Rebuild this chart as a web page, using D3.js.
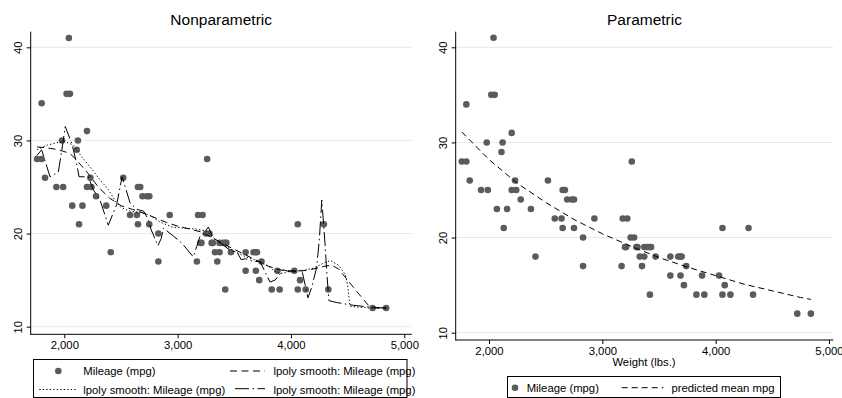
<!DOCTYPE html>
<html><head><meta charset="utf-8">
<script src="https://cdn.jsdelivr.net/npm/d3@7"></script>
<style>
html,body{margin:0;padding:0;background:#fff;}
svg{display:block;font-family:"Liberation Sans",Arial,Helvetica,sans-serif;}
</style></head>
<body>
<svg id="chart" width="842" height="398"></svg>
<script>
// ---- data (Stata auto dataset: weight vs mpg) ----
const weight = [1760,1800,1800,1830,1930,1980,1990,2020,2040,2050,2070,2110,2120,2130,2160,2200,2200,2230,2240,2280,2370,2410,2520,2580,2640,2650,2650,2670,2690,2730,2750,2750,2830,2830,2930,3170,3180,3200,3210,3220,3250,3260,3280,3300,3310,3330,3350,3370,3370,3400,3420,3420,3430,3470,3600,3600,3670,3690,3690,3700,3720,3740,3830,3880,3900,4030,4060,4060,4080,4130,4290,4330,4720,4840];
const mpg    = [28,28,34,26,25,30,25,35,41,35,23,29,30,21,23,25,31,26,25,24,23,18,26,22,22,21,25,25,24,24,24,21,20,17,22,17,22,19,19,22,20,28,20,19,19,18,17,18,19,19,19,14,19,18,18,16,18,16,18,18,15,17,14,16,14,16,21,14,15,14,21,14,12,12];

// lpoly smooth 1 (dashed)
const lp1W = [1760,1850,1950,2050,2100,2150,2200,2250,2300,2400,2500,2600,2700,2800,2900,3000,3100,3200,3300,3400,3500,3600,3700,3800,3900,4000,4100,4200,4300,4360,4420,4500,4600,4690,4750,4840];
const lp1M = [29.3,29.2,29.0,28.6,28.0,27.3,26.6,25.8,25.0,23.8,23.0,22.6,22.2,21.7,21.2,20.8,20.5,20.2,19.6,18.9,18.3,17.7,17.1,16.5,16.1,16.0,16.0,16.2,16.5,16.6,16.2,15.0,13.5,12.2,12.0,12.0];
// lpoly smooth 2 (dotted)
const lp2W = [1760,1850,1950,2000,2080,2150,2250,2300,2390,2450,2500,2580,2650,2750,2850,2950,3050,3150,3250,3300,3400,3500,3600,3700,3800,3850,3900,3950,4000,4050,4100,4200,4300,4350,4420,4480,4500,4520,4600,4700,4840];
const lp2M = [29.0,29.5,29.8,29.9,29.5,28.3,26.8,26.0,24.7,23.5,22.8,22.4,22.3,22.0,21.2,20.7,20.6,20.5,20.3,19.7,18.8,18.1,17.5,17.1,16.5,16.0,15.7,15.8,16.0,16.0,16.0,16.3,16.9,17.1,16.6,15.6,14.5,12.2,12.1,12.0,12.0];
// lpoly smooth 3 (long dash dot)
const lp3W = [1760,1800,1874,1947,1985,2008,2065,2080,2109,2130,2212,2256,2315,2388,2462,2510,2580,2640,2700,2737,2767,2826,2856,2874,3006,3035,3138,3168,3197,3230,3271,3315,3400,3462,3530,3560,3600,3668,3727,3815,3859,3932,3992,4050,4095,4125,4150,4185,4227,4250,4272,4300,4318,4335,4400,4550,4700,4840];
const lp3M = [28.4,29.0,26.1,26.6,29.5,31.5,29.7,29.0,27.5,26.1,26.1,24.7,23.6,20.9,23.1,26.1,23.3,22.6,22.4,21.6,20.4,18.7,19.5,20.6,19.3,19.0,17.5,18.6,19.7,20.0,20.7,19.5,18.8,18.2,17.9,17.2,17.3,17.0,17.0,14.8,15.0,16.1,15.9,15.9,16.1,14.5,13.1,14.3,16.4,19.3,23.6,19.0,15.5,12.8,12.6,12.3,12.1,12.0];
// parametric predicted mean mpg
const predW = [1760,2000,2250,2500,2750,3000,3250,3500,3750,4000,4250,4500,4750,4840];
const predM = [31.1,28.2,25.7,23.7,21.9,20.4,19.1,17.9,16.9,16.0,15.1,14.4,13.7,13.5];

const xTicks = [2000,3000,4000,5000];
const yTicks = [10,20,30,40];

// ---- drawing ----
const svg = d3.select("#chart");
const FONT = 11.3;
const ptColor = "#5b5b5b";

function panel(opts){
  const g = svg.append("g");
  const x = d3.scaleLinear().domain([2000,5000]).range(opts.xr);
  const y = d3.scaleLinear().domain([10,40]).range(opts.yr);
  const L = opts.left, R = opts.right, T = opts.top, B = opts.bottom;
  // grid
  g.selectAll(".grid").data(yTicks).enter().append("line")
    .attr("x1", L).attr("x2", R).attr("y1", d=>y(d)).attr("y2", d=>y(d))
    .attr("stroke", "#e8e8e8").attr("stroke-width", 1);
  // axes
  const xa = g.append("g").attr("transform", `translate(0,${B})`)
    .call(d3.axisBottom(x).tickValues(xTicks).tickFormat(d3.format(",")).tickSize(4).tickSizeOuter(0));
  xa.select(".domain").remove();
  xa.selectAll("text").attr("y", 6.6).attr("font-size", FONT).attr("font-family", null).attr("fill","#000");
  const ya = g.append("g").attr("transform", `translate(${L},0)`)
    .call(d3.axisLeft(y).tickValues(yTicks).tickSize(4).tickSizeOuter(0));
  ya.select(".domain").remove();
  ya.selectAll("text").attr("transform","rotate(-90)").attr("x",0).attr("y",-8.3).attr("dy",0)
    .attr("text-anchor","middle").attr("font-size", FONT).attr("font-family", null).attr("fill","#000");
  g.append("line").attr("x1",L).attr("x2",L).attr("y1",T).attr("y2",B+0.5).attr("stroke","#000");
  g.append("line").attr("x1",L).attr("x2",R).attr("y1",B).attr("y2",B).attr("stroke","#000");
  // points
  g.selectAll(".pt").data(weight.map((w,i)=>[w,mpg[i]])).enter().append("circle")
    .attr("cx", d=>x(d[0])).attr("cy", d=>y(d[1])).attr("r", 3.3).attr("fill", ptColor);
  // title
  g.append("text").attr("x",(L+R)/2).attr("y",25).attr("text-anchor","middle")
    .attr("font-size",15.5).text(opts.title);
  return {g,x,y};
}

function drawLine(p, W, M, dash){
  const line = d3.line().x(d=>p.x(d[0])).y(d=>p.y(d[1]));
  p.g.append("path").datum(W.map((w,i)=>[w,M[i]])).attr("d", line)
    .attr("fill","none").attr("stroke","#000").attr("stroke-width",1)
    .attr("stroke-dasharray", dash);
}

const DASH = "7,4.5", DOT = "1.3,2.2", LDD = "14,3.5,1.5,3.5";

// Left panel
const pL = panel({xr:[64.3,404.3], yr:[326.7,47.3], left:30.7, right:411.7, top:31.7, bottom:334.3, title:"Nonparametric"});
drawLine(pL, lp1W, lp1M, DASH);
drawLine(pL, lp2W, lp2M, DOT);
drawLine(pL, lp3W, lp3M, LDD);

// Right panel
const pR = panel({xr:[489,829], yr:[332.7,47.3], left:455.7, right:833.3, top:31.7, bottom:340, title:"Parametric"});
drawLine(pR, predW, predM, "6,4");
svg.append("text").attr("x",644).attr("y",366).attr("text-anchor","middle").attr("font-size",FONT).text("Weight (lbs.)");

// Left legend
const lg = svg.append("g");
lg.append("rect").attr("x",33.5).attr("y",359.5).attr("width",373.5).attr("height",38)
  .attr("fill","none").attr("stroke","#000").attr("stroke-width",1);
lg.append("circle").attr("cx",58.3).attr("cy",371).attr("r",3.3).attr("fill",ptColor);
lg.append("text").attr("x",83.3).attr("y",375).attr("font-size",FONT).text("Mileage (mpg)");
lg.append("line").attr("x1",230).attr("x2",265).attr("y1",371).attr("y2",371).attr("stroke","#000").attr("stroke-dasharray",DASH);
lg.append("text").attr("x",273.5).attr("y",375).attr("font-size",FONT).text("lpoly smooth: Mileage (mpg)");
lg.append("line").attr("x1",39.3).attr("x2",77).attr("y1",389.5).attr("y2",389.5).attr("stroke","#000").attr("stroke-dasharray",DOT);
lg.append("text").attr("x",83.3).attr("y",393.5).attr("font-size",FONT).text("lpoly smooth: Mileage (mpg)");
lg.append("line").attr("x1",235).attr("x2",265).attr("y1",388.7).attr("y2",388.7).attr("stroke","#000").attr("stroke-dasharray",LDD);
lg.append("text").attr("x",273.5).attr("y",393.5).attr("font-size",FONT).text("lpoly smooth: Mileage (mpg)");

// Right legend
const rg = svg.append("g");
rg.append("rect").attr("x",507.5).attr("y",376.5).attr("width",273).attr("height",21)
  .attr("fill","none").attr("stroke","#000").attr("stroke-width",1);
rg.append("circle").attr("cx",515).attr("cy",387.7).attr("r",3.3).attr("fill",ptColor);
rg.append("text").attr("x",526.7).attr("y",391.7).attr("font-size",FONT).text("Mileage (mpg)");
rg.append("line").attr("x1",621.7).attr("x2",663.3).attr("y1",387.7).attr("y2",387.7).attr("stroke","#000").attr("stroke-dasharray","6,4");
rg.append("text").attr("x",671.5).attr("y",391.7).attr("font-size",FONT).text("predicted mean mpg");
</script>
</body></html>
